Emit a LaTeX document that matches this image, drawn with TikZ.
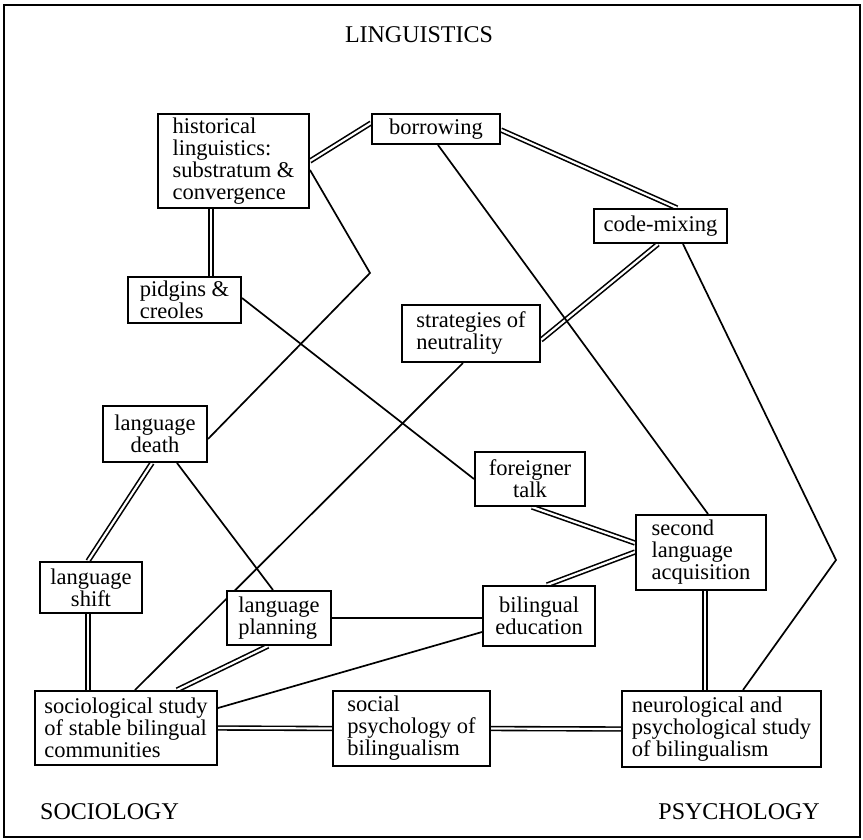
\documentclass[tikz,border=0pt]{standalone}
\usepackage{fontspec}
\setmainfont{Liberation Serif}
\usetikzlibrary{backgrounds}
\begin{document}
\begin{tikzpicture}[x=1pt,y=-1pt,
  box/.style={draw, line width=2pt, fill=white, inner sep=0pt,
    font=\fontsize{22.5}{22}\selectfont},
  caplabel/.style={font=\fontsize{24}{24}\selectfont, inner sep=0pt},
  dbl/.style={double, double distance=2.2pt, line width=1.6pt},
  sgl/.style={line width=1.7pt}]
\useasboundingbox (0,0) rectangle (863,839);
\draw[line width=2.4pt] (4,5) rectangle (860,837);

\node[caplabel] (ling) at (419,35) {LINGUISTICS};
\node[caplabel, anchor=west] (soc) at (40,812) {SOCIOLOGY};
\node[caplabel, anchor=east] (psy) at (820,812) {PSYCHOLOGY};

\node[box, minimum width=151pt, minimum height=94pt, align=left] (hist) at (233.5,161) {historical\\linguistics:\\substratum \&\\convergence};
\node[box, minimum width=128pt, minimum height=30pt, align=center] (borr) at (436,129) {borrowing};
\node[box, minimum width=133pt, minimum height=34pt, align=center] (code) at (660.5,226) {code-mixing};
\node[box, minimum width=113pt, minimum height=46pt, align=left] (pidg) at (184.5,300) {pidgins \&\\creoles};
\node[box, minimum width=138pt, minimum height=57pt, align=left] (strat) at (471,333.5) {strategies of\\neutrality};
\node[box, minimum width=104pt, minimum height=56pt, align=center] (death) at (155,434) {language\\death};
\node[box, minimum width=102pt, minimum height=51pt, align=center] (shift) at (91,587.5) {language\\shift};
\node[box, minimum width=104pt, minimum height=54pt, align=left] (plan) at (279,618) {language\\planning};
\node[box, minimum width=110pt, minimum height=54pt, align=center] (foreign) at (530,479) {foreigner\\talk};
\node[box, minimum width=130pt, minimum height=75pt, align=left] (sla) at (701,552.5) {second\\language\\acquisition};
\node[box, minimum width=112pt, minimum height=60pt, align=center] (biled) at (539,616) {bilingual\\education};
\node[box, minimum width=182pt, minimum height=74pt, align=left] (socio) at (126,728) {sociological study\\of stable bilingual\\communities};
\node[box, minimum width=157pt, minimum height=75pt, align=left] (socpsy) at (411.5,728.5) {social\\psychology of\\bilingualism};
\node[box, minimum width=199pt, minimum height=76pt, align=left] (neuro) at (721.5,729) {neurological and\\psychological study\\of bilingualism};

\coordinate (bend1) at (370,273);
\coordinate (bend2) at (836,560);

\begin{scope}[on background layer]
% double connectors
\draw[dbl] (hist.east) -- ([yshift=6pt]borr.west);
\draw[dbl] ([xshift=-22.5pt]hist.south) -- ([xshift=26.5pt]pidg.north);
\draw[dbl] ([yshift=-1pt]borr.east) -- ([xshift=16.5pt]code.north);
\draw[dbl] ([xshift=-2.5pt]code.south) -- ([yshift=-6.5pt]strat.east);
\draw[dbl] ([xshift=-3pt]death.south) -- ([xshift=-3pt]shift.north);
\draw[dbl] ([xshift=-3pt]shift.south) -- ([xshift=-38pt]socio.north);
\draw[dbl] ([xshift=-11pt]plan.south) -- ([xshift=51pt]socio.north);
\draw[dbl] ([xshift=2pt]foreign.south) -- ([yshift=9.5pt]sla.west);
\draw[dbl] ([xshift=8pt]biled.north) -- ([yshift=0.5pt]sla.west);
\draw[dbl] ([xshift=4pt]sla.south) -- ([xshift=-16.5pt]neuro.north);
\draw[dbl] (socio.east) -- (socpsy.west);
\draw[dbl] (socpsy.east) -- (neuro.west);
% single connectors
\draw[sgl] ([yshift=-9pt]hist.east) -- (bend1) -- ([yshift=-5pt]death.east);
\draw[sgl] ([yshift=2pt]pidg.east) -- (foreign.west);
\draw[sgl] ([xshift=2pt]borr.south) -- ([xshift=7pt]sla.north);
\draw[sgl] ([xshift=22.5pt]code.south) -- (bend2) -- ([xshift=21.5pt]neuro.north);
\draw[sgl] ([xshift=-8pt]strat.south) -- ([xshift=9pt]socio.north);
\draw[sgl] ([xshift=22pt]death.south) -- ([xshift=-6pt]plan.north);
\draw[sgl] (plan.east) -- ([yshift=-2pt]biled.west);
\draw[sgl] ([yshift=-16pt]biled.west) -- ([yshift=20pt]socio.east);
\end{scope}
\end{tikzpicture}
\end{document}
